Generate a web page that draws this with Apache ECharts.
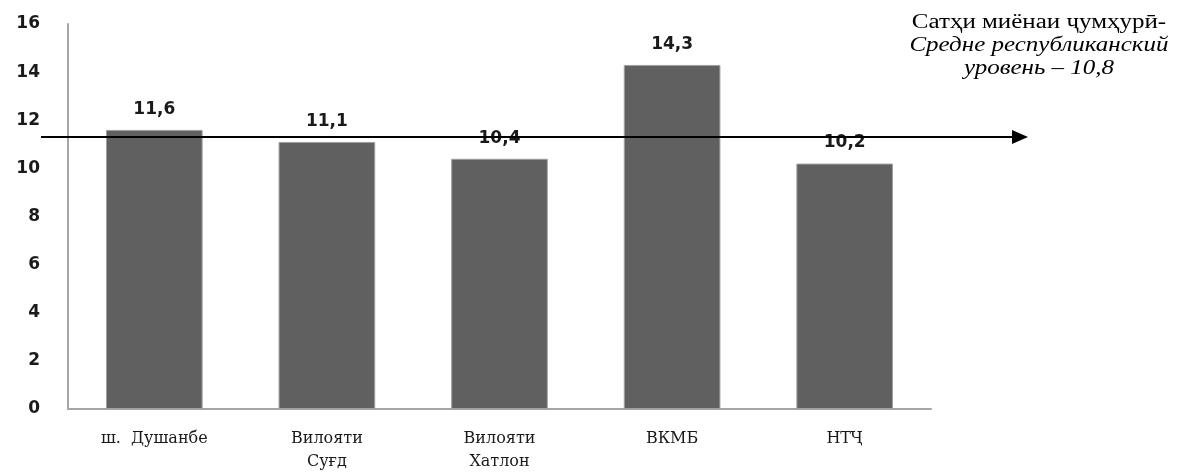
<!DOCTYPE html>
<html>
<head>
<meta charset="utf-8">
<script src="https://cdn.jsdelivr.net/npm/echarts@6/dist/echarts.min.js"></script>
<style>
html,body{margin:0;padding:0;background:#fff;}
#chart{width:1179px;height:473px;}
</style>
</head>
<body>
<div id="chart"></div>
<script>
const categories = ['ш.  Душанбе', 'Вилояти\nСуғд', 'Вилояти\nХатлон', 'ВКМБ', 'НТҶ'];
const values = [11.6, 11.1, 10.4, 14.3, 10.2];
const valueLabels = ['11,6', '11,1', '10,4', '14,3', '10,2'];
const yTicks = [0, 2, 4, 6, 8, 10, 12, 14, 16];
const avgLineLevel = [11.3];
const noteLines = ['Сатҳи миёнаи ҷумҳурӣ-', 'Средне республиканский', 'уровень – 10,8'];

const chart = echarts.init(document.getElementById('chart'));
const option = {
  animation: false,
  backgroundColor: '#ffffff',
  grid: { left: 68, right: 248, top: 24, bottom: 61, containLabel: false },
  xAxis: {
    type: 'category',
    data: categories,
    axisLine: { show: true, lineStyle: { color: '#a6a6a6', width: 2 } },
    axisTick: { show: false },
    axisLabel: {
      color: '#1a1a1a', fontFamily: 'DejaVu Serif', fontSize: 16,
      lineHeight: 23, margin: 18, interval: 0
    }
  },
  yAxis: {
    type: 'value',
    min: yTicks[0], max: yTicks[yTicks.length - 1], interval: 2,
    splitLine: { show: false },
    axisLine: { show: true, lineStyle: { color: '#a6a6a6', width: 2 } },
    axisTick: { show: false },
    axisLabel: {
      color: '#1a1a1a', fontFamily: 'DejaVu Sans', fontSize: 17, fontWeight: 'bold',
      margin: 28
    }
  },
  series: [{
    type: 'bar',
    data: values,
    barCategoryGap: '44%',
    itemStyle: { color: '#606060', borderColor: '#a0a0a0', borderWidth: 1 },
    label: {
      show: true, position: 'top', distance: 12,
      color: '#1a1a1a', fontFamily: 'DejaVu Sans', fontSize: 17, fontWeight: 'bold',
      formatter: p => valueLabels[p.dataIndex]
    }
  }]
};
chart.setOption(option);

const yPix = chart.convertToPixel({ yAxisIndex: 0 }, avgLineLevel[0]);
const noteStyle = (txt, italic) => ({
  text: txt, textAlign: 'center', textVerticalAlign: 'middle',
  fontFamily: 'Liberation Serif', fontStyle: italic ? 'italic' : 'normal', fontSize: 20, fill: '#000'
});
chart.setOption({
  graphic: [
    { type: 'line', shape: { x1: 41, y1: yPix, x2: 1014, y2: yPix }, style: { stroke: '#000', lineWidth: 2 }, z: 100 },
    { type: 'polygon', shape: { points: [[1012, yPix - 7], [1028, yPix], [1012, yPix + 7]] }, style: { fill: '#000' }, z: 100 },
    { type: 'text', x: 1039, y: 23, scaleX: 1.25, style: noteStyle(noteLines[0], false) },
    { type: 'text', x: 1039, y: 46, scaleX: 1.25, style: noteStyle(noteLines[1], true) },
    { type: 'text', x: 1039, y: 69, scaleX: 1.25, style: noteStyle(noteLines[2], true) }
  ]
});
</script>
</body>
</html>
